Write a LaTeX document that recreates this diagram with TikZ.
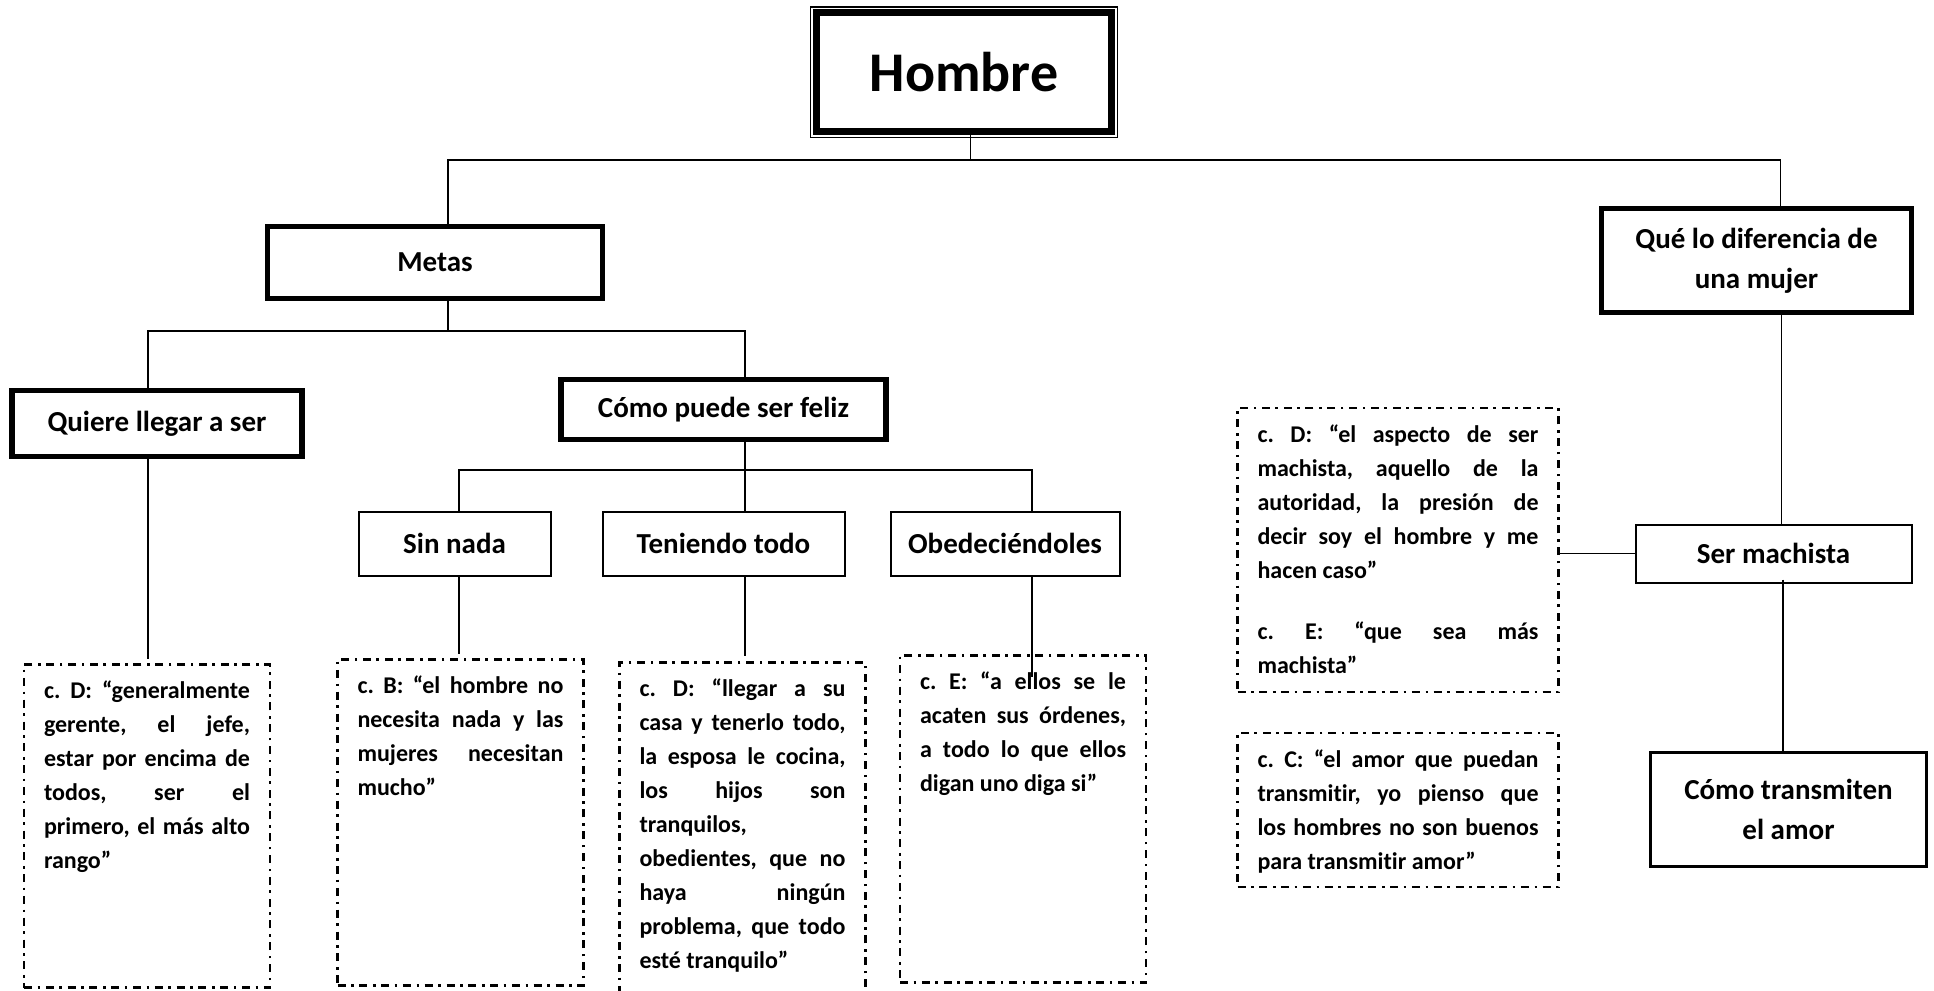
\documentclass[tikz,border=0pt]{standalone}
\usepackage{fontspec}
\setmainfont{Carlito}[Ligatures={TeX,NoCommon}]
\usepackage{tikz}
\usetikzlibrary{positioning}
\usetikzlibrary{fit}
\tolerance=10000
\hbadness=10000
\frenchspacing
\tikzstyle{raiz} = [rectangle,draw=black,line width=3.5pt,outer sep=0pt,minimum width=147.5pt,minimum height=59.3pt,font=\fontsize{28pt}{34pt}\selectfont\bfseries]
\tikzstyle{rama} = [rectangle,draw=black,line width=2.6pt,outer sep=0pt,align=center,font=\fontsize{14.5pt}{20pt}\selectfont\bfseries]
\tikzstyle{hoja} = [rectangle,draw=black,line width=1pt,outer sep=0pt,align=center,font=\fontsize{14.5pt}{20pt}\selectfont\bfseries]
\tikzstyle{cita} = [rectangle,draw=black,line width=1.25pt,dash pattern=on 4pt off 2.8pt on 1.3pt off 2.8pt,outer sep=0pt,inner xsep=10pt,inner ysep=6pt,text width=103pt,text height=11pt,align=justify,font=\fontsize{12pt}{17pt}\selectfont\bfseries]

\begin{document}
\begin{tikzpicture}[line width=0.65pt]
  \useasboundingbox (0,0) rectangle (967pt,-495.5pt);
  \clip (0,0) rectangle (967pt,-495.5pt);

  \node [raiz] (hombre) at (482pt,-36.1pt) {Hombre};
  \node [draw=black,line width=0.75pt,inner sep=3pt,fit=(hombre)] (marco) {};

  \node [rama,minimum width=167.5pt,minimum height=36pt,below left=47.5pt and 107pt of hombre] (metas) {Metas};
  \node [rama,minimum width=155pt,minimum height=52pt,below right=38.5pt and 245pt of hombre] (que) {Qué lo diferencia de\\una mujer};

  \draw ([xshift=3.3pt]hombre.south) -- ++(0,-14.25pt) coordinate (b1);
  \draw ([xshift=6.5pt]metas.north) |- (b1) -| ([xshift=12pt]que.north);

  % metas
  \node [rama,minimum width=145pt,minimum height=33pt,below=46pt of metas,xshift=-139pt] (quiere) {Quiere llegar a ser};
  \node [rama,minimum width=162.5pt,minimum height=30pt,below=40.5pt of metas,xshift=144.25pt] (feliz) {Cómo puede ser feliz};
  \draw ([xshift=6.5pt]metas.south) -- ++(0,-16.25pt) coordinate (b2);
  \draw ([xshift=-4.5pt]quiere.north) |- (b2) -| ([xshift=10.75pt]feliz.north);

  \node [hoja,minimum width=121pt,minimum height=32pt,below=36pt of feliz] (teniendo) {Teniendo todo};
  \node [hoja,minimum width=96pt,minimum height=32pt,left=26pt of teniendo] (sinnada) {Sin nada};
  \node [hoja,minimum width=114.5pt,minimum height=32pt,right=23pt of teniendo] (obed) {Obedeciéndoles};
  \draw ([xshift=10.75pt]feliz.south) -- ++(0,-15.25pt) coordinate (b3) -- ([xshift=10.75pt]teniendo.north);
  \draw ([xshift=2.25pt]sinnada.north) |- (b3) -| ([xshift=13.5pt]obed.north);

  \node [cita,text depth=138.5pt,below=104pt of quiere,xshift=-5pt] (cita1) {c. D: “generalmente\linebreak gerente, el jefe,\linebreak estar por encima de\linebreak todos, ser el\linebreak primero, el más alto\linebreak rango”};
  \node [cita,text depth=140pt,below=42pt of sinnada,xshift=3pt] (cita2) {c. B: “el hombre no\linebreak necesita nada y las\linebreak mujeres necesitan\linebreak mucho”};
  \node [cita,text depth=147pt,below=43.5pt of teniendo,xshift=9.5pt] (cita3) {c. D: “llegar a su\linebreak casa y tenerlo todo,\linebreak la esposa le cocina,\linebreak los hijos son\linebreak tranquilos,\linebreak obedientes, que no\linebreak haya ningún\linebreak problema, que todo\linebreak esté tranquilo”};
  \node [cita,text depth=140.5pt,below=40pt of obed,xshift=9pt] (cita4) {c. E: “a ellos se le\linebreak acaten sus órdenes,\linebreak a todo lo que ellos\linebreak digan uno diga si”};

  \draw ([xshift=-4.5pt]quiere.south) -- ([xshift=0.5pt,yshift=3pt]cita1.north);
  \draw ([xshift=2.25pt]sinnada.south) -- ([xshift=-0.75pt,yshift=3pt]cita2.north);
  \draw ([xshift=10.75pt]teniendo.south) -- ([xshift=1.25pt,yshift=3.5pt]cita3.north);
  \draw ([xshift=13.5pt]obed.south) -- ([xshift=4.5pt,yshift=-10.5pt]cita4.north);

  % diferencia
  \node [hoja,minimum width=138pt,minimum height=29pt,below=106pt of que,xshift=8.5pt] (machista) {Ser machista};
  \node [hoja,line width=1.2pt,minimum width=138pt,minimum height=57pt,below=85pt of machista,xshift=7.5pt] (transmiten) {Cómo transmiten\\el amor};
  \node [cita,text width=140.5pt,text depth=119pt,left=38.5pt of machista,yshift=1.75pt] (citad) {c. D: “el aspecto de ser\linebreak machista, aquello de la\linebreak autoridad, la presión de\linebreak decir soy el hombre y me\linebreak hacen caso”\par\vspace{13.8pt}c. E: “que sea más\linebreak machista”};
  \node [cita,text width=140.5pt,text depth=54pt,below=20.5pt of citad] (citac) {c. C: “el amor que puedan\linebreak transmitir, yo pienso que\linebreak los hombres no son buenos\linebreak para transmitir amor”};

  \draw ([xshift=12.5pt]que.south) -- ([xshift=4pt]machista.north);
  \draw (machista.west) -- (machista.west -| citad.east);
  \draw ([xshift=4.75pt,yshift=1.5pt]machista.south) -- ([xshift=-2.75pt]transmiten.north);

\end{tikzpicture}
\end{document}
